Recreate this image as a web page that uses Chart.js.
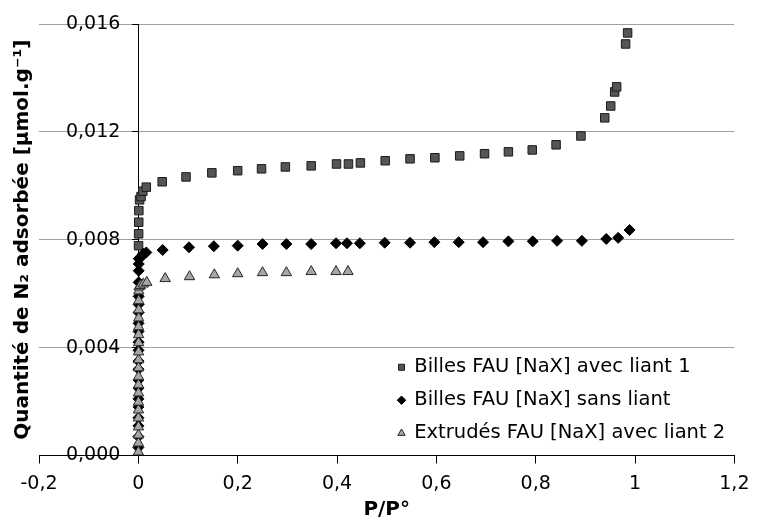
<!DOCTYPE html>
<html>
<head>
<meta charset="utf-8">
<script src="https://cdn.jsdelivr.net/npm/chart.js@4/dist/chart.umd.min.js"></script>
<style>
  body { margin: 0; background: #fff; }
</style>
</head>
<body>
<canvas id="isoChart" width="761" height="527"></canvas>
<script>
// noms des séries
const seriesNames = [
    "Billes FAU [NaX] avec liant 1",
    "Billes FAU [NaX] sans liant",
    "Extrudés FAU [NaX] avec liant 2"
];

// Billes avec liant 1 (carrés)
const liant1X = [0.0004, 0.0006, 0.0008, 0.001, 0.0025, 0.0054, 0.009, 0.016,
    0.048, 0.096, 0.148, 0.2, 0.248, 0.296, 0.348, 0.399, 0.423, 0.447, 0.497, 0.547,
    0.597, 0.647, 0.697, 0.745, 0.793, 0.841, 0.891, 0.939, 0.951, 0.959, 0.963, 0.981, 0.985];
const liant1Y = [0.00778, 0.00822, 0.00865, 0.00908, 0.00948, 0.0096, 0.0098, 0.00995,
    0.01015, 0.01033, 0.01048, 0.01056, 0.01063, 0.0107, 0.01074, 0.01081, 0.01081, 0.01085, 0.01093, 0.011,
    0.01104, 0.01111, 0.01119, 0.01126, 0.01133, 0.01152, 0.01185, 0.01252, 0.01296, 0.01348, 0.01367, 0.01526, 0.01567];

// Billes sans liant (losanges)
const sansLiantX = [0.0001, 0.0001, 0.0002, 0.0002, 0.0002, 0.0003, 0.0003, 0.0003, 0.0004, 0.0004,
    0.0004, 0.0005, 0.0005, 0.0005, 0.0006, 0.0006, 0.0006, 0.0007, 0.0007, 0.0008,
    0.0008, 0.004, 0.0074, 0.01, 0.016,
    0.049, 0.102, 0.152, 0.2, 0.25, 0.298, 0.348, 0.398, 0.42, 0.446, 0.496, 0.547,
    0.596, 0.645, 0.694, 0.745, 0.794, 0.843, 0.893, 0.942, 0.966, 0.989];
const sansLiantY = [0.0003, 0.0007, 0.0011, 0.0014, 0.0018, 0.0021, 0.0025, 0.0028, 0.0032, 0.0035,
    0.0039, 0.0042, 0.0046, 0.0049, 0.0053, 0.0056, 0.0059, 0.00642, 0.00685, 0.0071,
    0.0073, 0.00733, 0.00741, 0.00748, 0.00753,
    0.00762, 0.00772, 0.00776, 0.00778, 0.00784, 0.00784, 0.00784, 0.00787, 0.00787, 0.00787, 0.00789, 0.00789,
    0.00791, 0.00791, 0.00791, 0.00794, 0.00794, 0.00796, 0.00796, 0.00803, 0.00807, 0.00836];

// Extrudés avec liant 2 (triangles)
const extrudesX = [0.0001, 0.0001, 0.0002, 0.0002, 0.0002, 0.0003, 0.0003, 0.0003, 0.0004, 0.0004,
    0.0004, 0.0005, 0.0005, 0.0005, 0.0006, 0.0006, 0.0007, 0.0007, 0.0008, 0.001,
    0.0015, 0.004, 0.01, 0.017,
    0.054, 0.103, 0.153, 0.2, 0.25, 0.298, 0.348, 0.398, 0.422];
const extrudesY = [0.00013, 0.00046, 0.00076, 0.00106, 0.00139, 0.00169, 0.00198, 0.00232, 0.00262, 0.00292,
    0.00325, 0.00355, 0.00384, 0.00418, 0.00448, 0.00477, 0.0051, 0.0054, 0.00574, 0.0061,
    0.00625, 0.0063, 0.00636, 0.00642,
    0.00656, 0.00663, 0.0067, 0.00674, 0.00678, 0.00678, 0.00682, 0.00682, 0.00682];

// ticks
const xTicks = [-0.2, 0, 0.2, 0.4, 0.6, 0.8, 1, 1.2];
const yTicks = [0, 0.004, 0.008, 0.012, 0.016];

const toPoints = (xs, ys) => xs.map((x, i) => ({ x: x, y: ys[i] }));
const virgule = v => String(v).replace(".", ",");

Chart.defaults.font.family = "'DejaVu Sans', sans-serif";
Chart.defaults.color = "#000";

// légende en bas à droite, étiquettes de l'axe Y décalées à gauche de l'axe
const ecartEtiquettesY = 18;
const ajustements = {
    id: "ajustements",
    afterLayout(chart) {
        const lg = chart.legend;
        if (lg) {
            lg.left = 385;
            lg.top = 344;
            lg.bottom = chart.height;
        }
    },
    beforeDraw(chart) {
        const items = chart.scales.y.getLabelItems(chart.chartArea);
        if (!items._decale) {
            items.forEach(it => { it.options.translation[0] -= ecartEtiquettesY; });
            items._decale = true;
        }
    }
};

const ctx = document.getElementById("isoChart").getContext("2d");
new Chart(ctx, {
    type: "scatter",
    data: {
        datasets: [
            {
                label: seriesNames[0],
                data: toPoints(liant1X, liant1Y),
                pointStyle: "rect",
                pointRadius: 6,
                backgroundColor: "#555555",
                borderColor: "#1a1a1a",
                borderWidth: 1,
                order: 2
            },
            {
                label: seriesNames[1],
                data: toPoints(sansLiantX, sansLiantY),
                pointStyle: "rectRot",
                pointRadius: 5.5,
                backgroundColor: "#000",
                borderColor: "#000",
                borderWidth: 1,
                order: 1
            },
            {
                label: seriesNames[2],
                data: toPoints(extrudesX, extrudesY),
                pointStyle: "triangle",
                pointRadius: 6,
                backgroundColor: "#a6a6a6",
                borderColor: "#262626",
                borderWidth: 1,
                order: 0
            }
        ]
    },
    options: {
        responsive: false,
        animation: false,
        devicePixelRatio: 1,
        layout: { padding: { left: 7, right: 18, top: 24, bottom: 3 } },
        plugins: {
            tooltip: { enabled: false },
            legend: {
                position: "chartArea",
                align: "start",
                labels: {
                    usePointStyle: true,
                    boxWidth: 6,
                    boxHeight: 6,
                    padding: 13.5,
                    color: "#000",
                    font: { size: 19.5 },
                    sort: (a, b) => a.datasetIndex - b.datasetIndex
                }
            }
        },
        scales: {
            x: {
                type: "linear",
                position: "bottom",
                min: -0.2,
                max: 1.2,
                afterBuildTicks: axis => { axis.ticks = xTicks.map(v => ({ value: v })); },
                ticks: {
                    padding: 11.5,
                    font: { size: 19, lineHeight: 1 },
                    callback: v => virgule(Number(v.toFixed(1)))
                },
                grid: { drawOnChartArea: false, tickLength: 8, tickColor: "#000" },
                border: { color: "#000", width: 1 },
                title: {
                    display: true,
                    text: "P/P°",
                    font: { size: 20, weight: "bold", lineHeight: 1 },
                    padding: { top: -5.5, bottom: 4 }
                }
            },
            y: {
                type: "linear",
                position: { x: 0 },
                min: 0,
                max: 0.016,
                afterBuildTicks: axis => { axis.ticks = yTicks.map(v => ({ value: v })); },
                ticks: {
                    padding: 12,
                    font: { size: 19 },
                    callback: v => virgule(v.toFixed(3))
                },
                grid: {
                    color: c => (c.tick && c.tick.value === 0 ? "rgba(0,0,0,0)" : "#a0a0a0"),
                    tickLength: 6,
                    tickColor: "#000"
                },
                border: { color: "#000", width: 1 }
            },
            yTitre: {
                type: "linear",
                axis: "y",
                position: "left",
                ticks: { display: false },
                grid: { display: false, drawTicks: false },
                border: { display: false },
                title: {
                    display: true,
                    text: "Quantité de N₂ adsorbée [µmol.g⁻¹]",
                    font: { size: 20, weight: "bold" },
                    padding: { top: 4, bottom: 4 }
                }
            }
        }
    },
    plugins: [ajustements]
});
</script>
</body>
</html>
